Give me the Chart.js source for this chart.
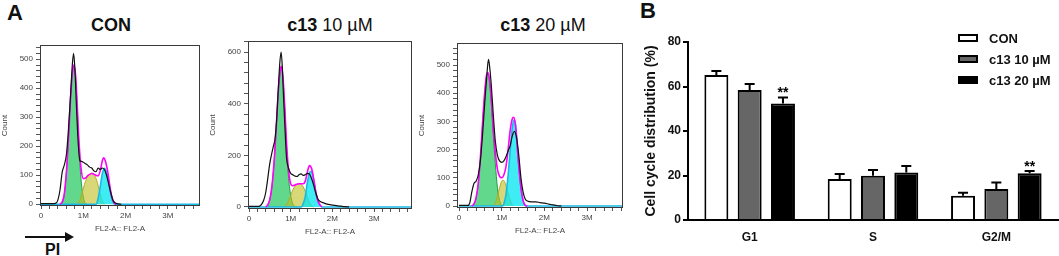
<!DOCTYPE html>
<html>
<head>
<meta charset="utf-8">
<script src="https://cdn.jsdelivr.net/npm/chart.js@4.4.1/dist/chart.umd.min.js"></script>
<style>
  html, body { margin: 0; padding: 0; background: #fff; }
  #wrap { position: relative; width: 1059px; height: 256px; overflow: hidden; font-family: Arial, 'Liberation Sans', sans-serif; }
  #wrap canvas { position: absolute; }
  .panel-letter { position: absolute; font-weight: bold; font-size: 22px; line-height: 22px; color: #111; }
  .hist-title { position: absolute; width: 140px; text-align: center; font-size: 18px; line-height: 20px; color: #111; white-space: nowrap; }
  .hist-title b { font-weight: bold; }
  #pi-line { position: absolute; left: 25px; top: 236px; width: 42px; height: 2px; background: #111; }
  #pi-head { position: absolute; left: 65px; top: 232px; width: 0; height: 0; border-top: 5px solid transparent; border-bottom: 5px solid transparent; border-left: 9px solid #111; }
  #pi-text { position: absolute; left: 45px; top: 242px; font-weight: bold; font-size: 16px; line-height: 16px; color: #111; }
</style>
</head>
<body>
<div id="wrap">
  <div class="panel-letter" style="left:7px;top:2px;">A</div>
  <div class="panel-letter" style="left:640px;top:0px;">B</div>
  <div class="hist-title" style="left:41px;top:15px;"><b>CON</b></div>
  <div class="hist-title" style="left:260px;top:15px;"><b>c13</b> 10 µM</div>
  <div class="hist-title" style="left:473px;top:15px;"><b>c13</b> 20 µM</div>
  <div id="pi-line"></div><div id="pi-head"></div>
  <div id="pi-text">PI</div>

  <canvas id="histCon" width="202" height="206" style="left:0px;top:30px;"></canvas>
  <canvas id="hist10" width="206" height="209" style="left:208px;top:30px;"></canvas>
  <canvas id="hist20" width="208" height="208" style="left:417px;top:30px;"></canvas>
  <canvas id="barChart" width="419" height="226" style="left:640px;top:30px;"></canvas>
</div>

<script>
// ---- panel A: histograms, x in millions (FL2-A), y = count ----
const HIST_X_MAJOR = [0, 1, 2, 3];

const CON_RAW = [[0,2],[0.3,2],[0.36,4],[0.4,15],[0.45,50],[0.5,110],[0.55,135],[0.6,170],[0.65,260],[0.7,380],[0.74,480],[0.77,520],[0.8,470],[0.84,330],[0.88,210],[0.92,150],[0.96,148],[1.0,145],[1.05,140],[1.1,135],[1.15,128],[1.2,125],[1.25,115],[1.3,112],[1.35,125],[1.4,120],[1.45,125],[1.5,120],[1.55,100],[1.6,70],[1.65,40],[1.7,15],[1.75,5],[1.8,2],[1.9,0]];
const CON_FIT = [[0.45,0],[0.5,8],[0.55,35],[0.6,110],[0.65,230],[0.7,370],[0.75,465],[0.78,480],[0.82,440],[0.86,330],[0.9,210],[0.95,120],[1.0,88],[1.05,90],[1.1,98],[1.2,106],[1.3,100],[1.35,98],[1.4,115],[1.45,150],[1.48,160],[1.52,150],[1.58,110],[1.63,60],[1.68,22],[1.73,5],[1.78,0]];
const CON_G1 = [[0.48,0],[0.52,10],[0.55,33],[0.6,108],[0.65,228],[0.7,368],[0.75,462],[0.78,477],[0.82,432],[0.86,315],[0.9,185],[0.95,80],[1.0,25],[1.04,5],[1.08,0]];
const CON_S = [[0.85,0],[0.9,8],[0.95,28],[1.0,55],[1.05,78],[1.1,95],[1.15,104],[1.2,107],[1.25,104],[1.3,90],[1.35,65],[1.4,35],[1.45,12],[1.5,0]];
const CON_G2 = [[0,0],[1.3,0],[1.35,20],[1.4,60],[1.45,105],[1.5,124],[1.55,110],[1.6,75],[1.65,35],[1.7,8],[1.75,0],[3.9,0]];
const CON_Y_MAJOR = [0, 100, 200, 300, 400, 500];

const C10_RAW = [[0,2],[0.22,2],[0.26,4],[0.3,10],[0.35,25],[0.4,55],[0.45,110],[0.5,170],[0.55,210],[0.58,232],[0.62,260],[0.66,330],[0.7,450],[0.74,560],[0.77,600],[0.8,540],[0.83,420],[0.87,280],[0.9,190],[0.95,150],[1.0,130],[1.05,125],[1.1,120],[1.15,118],[1.2,125],[1.25,128],[1.3,122],[1.35,125],[1.4,130],[1.45,128],[1.5,110],[1.55,85],[1.6,55],[1.65,32],[1.7,22],[1.8,15],[1.9,10],[2.0,7],[2.2,3],[2.3,1],[2.4,0]];
const C10_FIT = [[0.4,0],[0.45,8],[0.5,30],[0.55,80],[0.6,170],[0.65,300],[0.7,440],[0.75,530],[0.78,545],[0.82,490],[0.86,380],[0.9,250],[0.95,140],[1.0,90],[1.05,82],[1.1,85],[1.2,90],[1.3,90],[1.35,100],[1.4,135],[1.45,160],[1.5,150],[1.55,110],[1.6,60],[1.65,25],[1.7,8],[1.75,0]];
const C10_G1 = [[0.42,0],[0.45,5],[0.5,28],[0.55,78],[0.6,168],[0.65,298],[0.7,438],[0.75,528],[0.78,543],[0.82,485],[0.86,370],[0.9,230],[0.95,110],[1.0,45],[1.05,12],[1.1,2],[1.15,0]];
const C10_S = [[0.85,0],[0.9,8],[0.95,25],[1.0,45],[1.05,65],[1.1,80],[1.15,88],[1.2,90],[1.25,88],[1.3,78],[1.35,60],[1.4,38],[1.45,18],[1.5,5],[1.55,0]];
const C10_G2 = [[0,0],[1.25,0],[1.3,12],[1.35,40],[1.4,95],[1.45,132],[1.5,138],[1.55,105],[1.6,58],[1.65,25],[1.7,8],[1.75,0],[3.9,0]];
const C10_Y_MAJOR = [0, 200, 400, 600];

const C20_RAW = [[0,2],[0.2,2],[0.25,10],[0.3,50],[0.35,80],[0.4,88],[0.45,110],[0.5,160],[0.55,250],[0.6,360],[0.65,460],[0.69,520],[0.72,490],[0.76,420],[0.8,330],[0.85,230],[0.9,180],[0.95,160],[1.0,155],[1.05,160],[1.1,175],[1.15,195],[1.2,215],[1.25,250],[1.3,265],[1.35,240],[1.4,180],[1.45,100],[1.5,50],[1.55,25],[1.6,18],[1.7,15],[1.8,15],[1.9,12],[2.0,10],[2.1,7],[2.2,4],[2.3,1],[2.4,0]];
const C20_FIT = [[0.3,0],[0.35,8],[0.4,30],[0.45,80],[0.5,170],[0.55,290],[0.6,400],[0.65,468],[0.68,473],[0.72,440],[0.76,370],[0.8,280],[0.85,190],[0.9,130],[0.95,105],[1.0,100],[1.05,110],[1.1,140],[1.15,200],[1.2,270],[1.25,310],[1.28,315],[1.32,290],[1.36,220],[1.4,140],[1.45,65],[1.5,20],[1.55,3],[1.6,0]];
const C20_G1 = [[0.32,0],[0.35,6],[0.4,28],[0.45,78],[0.5,165],[0.55,285],[0.6,395],[0.65,463],[0.68,468],[0.72,432],[0.76,355],[0.8,255],[0.85,150],[0.9,65],[0.95,20],[1.0,3],[1.03,0]];
const C20_S = [[0.8,0],[0.85,10],[0.9,35],[0.95,65],[1.0,88],[1.03,92],[1.07,85],[1.12,62],[1.17,35],[1.22,12],[1.27,0]];
const C20_G2 = [[0,0],[1.02,0],[1.05,8],[1.1,40],[1.15,110],[1.2,200],[1.25,280],[1.29,305],[1.33,280],[1.37,200],[1.42,110],[1.47,40],[1.52,8],[1.57,0],[3.9,0]];
const C20_Y_MAJOR = [0, 100, 200, 300, 400, 500];

// ---- panel B: bar chart ----
const PHASES = ['G1', 'S', 'G2/M'];
const GROUPS = ['CON', 'c13 10 µM', 'c13 20 µM'];
const CON_MEAN = [65.2, 18.4, 10.9];
const CON_SD   = [1.8, 2.3, 1.4];
const C10_MEAN = [58.4, 19.9, 13.9];
const C10_SD   = [2.7, 2.6, 2.9];
const C20_MEAN = [52.4, 21.4, 21.0];
const C20_SD   = [2.7, 2.9, 1.0];
const C20_SIG  = ['**', '', '**'];
const B_Y_TICKS = [0, 20, 40, 60, 80];

const FONT = "Arial, 'Liberation Sans', sans-serif";

const toXY = pts => pts.map(p => ({ x: p[0], y: p[1] }));

const framePlugin = {
  id: 'frame',
  afterDraw(chart) {
    const { ctx, chartArea: a } = chart;
    ctx.save();
    ctx.strokeStyle = '#3a3a3a';
    ctx.lineWidth = 1;
    ctx.strokeRect(Math.round(a.left) + 0.5, Math.round(a.top) + 0.5,
                   Math.round(a.right - a.left) - 1, Math.round(a.bottom - a.top) - 1);
    ctx.restore();
  }
};

function makeHist(id, curves, cfg) {
  const line = (data, color, width, fill) => ({
    data: toXY(data),
    borderColor: color,
    backgroundColor: fill || 'transparent',
    borderWidth: width,
    pointRadius: 0,
    fill: fill ? 'origin' : false,
    cubicInterpolationMode: 'monotone',
  });

  return new Chart(document.getElementById(id), {
    type: 'line',
    data: {
      datasets: [
        line(curves.raw, '#111111', 1.2),
        line(curves.fit, '#ff00ff', 1.6),
        line(curves.g2, '#19b8e6', 1.6, 'rgba(0,230,240,0.75)'),
        line(curves.s, '#b5a82a', 1, 'rgba(190,190,30,0.6)'),
        line(curves.g1, '#1e9a44', 1, 'rgba(0,192,70,0.62)'),
      ]
    },
    options: {
      responsive: false,
      animation: false,
      layout: { padding: { top: cfg.padTop, right: 2, left: 0, bottom: 0 } },
      plugins: { legend: { display: false }, tooltip: { enabled: false } },
      scales: {
        x: {
          type: 'linear',
          min: cfg.xMin,
          max: cfg.xMax,
          afterBuildTicks: s => {
            const t = [];
            for (let i = 0; i * 0.2 <= cfg.xMax; i++) t.push({ value: i / 5 });
            s.ticks = t;
          },
          afterFit: s => { s.height = 30; },
          ticks: {
            autoSkip: false,
            maxRotation: 0,
            padding: 2,
            color: '#444',
            font: { family: FONT, size: 8 },
            callback: v => HIST_X_MAJOR.includes(Math.round(v * 100) / 100) ? (v === 0 ? '0' : Math.round(v) + 'M') : '',
          },
          grid: { drawOnChartArea: false, tickLength: 3, color: '#555' },
          border: { display: false },
          title: { display: true, text: 'FL2-A:: FL2-A', color: '#444', font: { family: FONT, size: 8 }, padding: { top: 2, bottom: 2 } },
        },
        y: {
          min: cfg.yMin,
          max: cfg.yMax,
          afterBuildTicks: s => {
            const t = [];
            for (let v = 0; v <= cfg.yMax; v += cfg.yMinor) t.push({ value: v });
            s.ticks = t;
          },
          afterFit: s => { s.width = 40; },
          ticks: {
            autoSkip: false,
            padding: 3,
            color: '#444',
            font: { family: FONT, size: 8 },
            callback: v => cfg.yMajor.includes(v) ? String(v) : '',
          },
          grid: { drawOnChartArea: false, tickLength: 4, color: '#555' },
          border: { display: false },
          title: { display: true, text: 'Count', color: '#444', font: { family: FONT, size: 8 }, padding: { top: 0, bottom: 0 } },
        }
      }
    },
    plugins: [framePlugin]
  });
}

makeHist('histCon', { raw: CON_RAW, fit: CON_FIT, g1: CON_G1, s: CON_S, g2: CON_G2 },
  { xMin: -0.024, xMax: 3.76, yMin: -6, yMax: 549, yMajor: CON_Y_MAJOR, yMinor: 20, padTop: 15 });
makeHist('hist10', { raw: C10_RAW, fit: C10_FIT, g1: C10_G1, s: C10_S, g2: C10_G2 },
  { xMin: -0.024, xMax: 3.91, yMin: -8, yMax: 643, yMajor: C10_Y_MAJOR, yMinor: 40, padTop: 11 });
makeHist('hist20', { raw: C20_RAW, fit: C20_FIT, g1: C20_G1, s: C20_S, g2: C20_G2 },
  { xMin: -0.047, xMax: 3.84, yMin: -7, yMax: 578, yMajor: C20_Y_MAJOR, yMinor: 20, padTop: 13 });

// ---- bar chart with error bars ----
const BAR_SD  = [CON_SD, C10_SD, C20_SD];
const BAR_SIG = [[], [], C20_SIG];

const errorBarPlugin = {
  id: 'errorBars',
  afterDatasetsDraw(chart) {
    const { ctx } = chart;
    const yScale = chart.scales.y;
    ctx.save();
    ctx.strokeStyle = '#000';
    ctx.fillStyle = '#000';
    ctx.lineWidth = 2;
    chart.data.datasets.forEach((ds, d) => {
      chart.getDatasetMeta(d).data.forEach((bar, i) => {
        const mean = ds.data[i];
        const yTop = yScale.getPixelForValue(mean);
        const yErr = yScale.getPixelForValue(mean + BAR_SD[d][i]);
        ctx.beginPath();
        ctx.moveTo(bar.x, yTop);
        ctx.lineTo(bar.x, yErr);
        ctx.moveTo(bar.x - 5, yErr);
        ctx.lineTo(bar.x + 5, yErr);
        ctx.stroke();
        const sig = BAR_SIG[d][i];
        if (sig) {
          ctx.font = 'bold 14px ' + FONT;
          ctx.textAlign = 'center';
          ctx.textBaseline = 'alphabetic';
          ctx.fillText(sig, bar.x, yErr + 0);
        }
      });
    });
    ctx.restore();
  }
};

const legendPlugin = {
  id: 'boxLegend',
  afterDraw(chart) {
    const { ctx } = chart;
    ctx.save();
    chart.data.datasets.forEach((ds, d) => {
      const y = 8 + d * 21;
      ctx.fillStyle = ds.backgroundColor;
      ctx.fillRect(318, y - 4, 20, 8);
      ctx.strokeStyle = '#000';
      ctx.lineWidth = 2;
      ctx.strokeRect(319, y - 3, 18, 6);
      ctx.fillStyle = '#111';
      ctx.font = 'bold 13px ' + FONT;
      ctx.textAlign = 'left';
      ctx.textBaseline = 'middle';
      ctx.fillText(ds.label, 349, y + 1);
    });
    ctx.restore();
  }
};

const barDataset = (label, data, color) => ({
  label,
  data,
  backgroundColor: color,
  borderColor: '#000',
  borderWidth: 2,
  borderSkipped: 'start',
  categoryPercentage: 0.81,
  barPercentage: 0.72,
});

new Chart(document.getElementById('barChart'), {
  type: 'bar',
  data: {
    labels: PHASES,
    datasets: [
      barDataset(GROUPS[0], CON_MEAN, '#ffffff'),
      barDataset(GROUPS[1], C10_MEAN, '#666666'),
      barDataset(GROUPS[2], C20_MEAN, '#000000'),
    ]
  },
  options: {
    responsive: false,
    animation: false,
    layout: { padding: { top: 12, right: 1, left: 0, bottom: 0 } },
    plugins: { legend: { display: false }, tooltip: { enabled: false } },
    scales: {
      x: {
        afterFit: s => { s.height = 36; },
        grid: { display: false },
        border: { display: true, color: '#000', width: 2 },
        ticks: { padding: 2, color: '#111', font: { family: FONT, size: 12, weight: 'bold' } },
      },
      y: {
        min: 0,
        max: 80,
        afterBuildTicks: s => { s.ticks = B_Y_TICKS.map(v => ({ value: v })); },
        afterFit: s => { s.width = 48; },
        ticks: { padding: 2, color: '#111', font: { family: FONT, size: 12, weight: 'bold' } },
        grid: { drawOnChartArea: false, tickLength: 5, lineWidth: 2, color: '#000' },
        border: { display: true, color: '#000', width: 2 },
        title: { display: true, text: 'Cell cycle distribution (%)', color: '#111', font: { family: FONT, size: 14, weight: 'bold' }, padding: { top: 3, bottom: 0 } },
      }
    }
  },
  plugins: [errorBarPlugin, legendPlugin]
});
</script>
</body>
</html>
